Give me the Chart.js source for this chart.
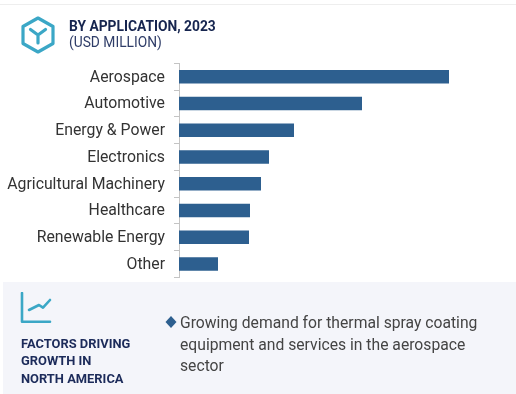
<!DOCTYPE html>
<html><head><meta charset="utf-8">
<script src="https://cdn.jsdelivr.net/npm/chart.js@4"></script>
<style>
html,body{margin:0;padding:0;background:#fff;width:516px;height:394px;overflow:hidden;font-family:Roboto,sans-serif}
.abs{position:absolute;white-space:nowrap}
#wrap{position:absolute;left:0;top:0;width:516px;height:394px}
</style></head><body>
<div class="abs" style="left:0;top:4px;width:516px;height:1px;background:#eeeeee"></div>
<div class="abs" style="left:3px;top:282px;width:513px;height:112px;background:#f4f5fa"></div>
<div id="wrap"><canvas id="c" width="516" height="394"></canvas></div>
<svg class="abs" style="left:19px;top:15px" width="38" height="40" viewBox="0 0 38 40">
<path d="M19 3 L34 11.5 L34 28.5 L19 37 L4 28.5 L4 11.5 Z" fill="none" stroke="#3ba7c6" stroke-width="3.2" stroke-linejoin="round"/>
<path d="M11.5 14.5 L19 20 L26.5 14.5 M19 20 L19 28" fill="none" stroke="#3ba7c6" stroke-width="3.2" stroke-linecap="round" stroke-linejoin="round"/>
</svg>
<div class="abs" style="left:69px;top:18px;font-size:13.8px;line-height:17px;font-weight:700;color:#16254f">BY APPLICATION, 2023</div>
<div class="abs" style="left:69px;top:34px;font-size:13.8px;line-height:17px;color:#2f3d68">(USD MILLION)</div>
<svg class="abs" style="left:19px;top:292px" width="34" height="34" viewBox="0 0 34 34">
<path d="M3 1 L3 29.7 L31 29.7" fill="none" stroke="#3ba7c6" stroke-width="2.6" stroke-linecap="round" stroke-linejoin="round"/>
<path d="M10 18 L20 13 L24 15.7 L31 8" fill="none" stroke="#3ba7c6" stroke-width="2.6" stroke-linecap="round" stroke-linejoin="round"/>
</svg>
<div class="abs" style="left:21px;top:335px;font-size:12.9px;line-height:17.3px;font-weight:700;color:#1c2b5a">FACTORS DRIVING<br>GROWTH IN<br>NORTH AMERICA</div>
<svg class="abs" style="left:165px;top:315px" width="12" height="14" viewBox="0 0 12 14"><path d="M6 1 L11.5 7 L6 13 L0.5 7 Z" fill="#2d5f8f"/></svg>
<div class="abs" style="left:180px;top:312px;font-size:15.7px;line-height:21.6px;color:#444">Growing demand for thermal spray coating<br>equipment and services in the aerospace<br>sector</div>
<script>
const categories=["Aerospace","Automotive","Energy & Power","Electronics","Agricultural Machinery","Healthcare","Renewable Energy","Other"];
const values=[270,183,115,90,82,71,70,39];
new Chart(document.getElementById('c'),{
 type:'bar',
 data:{labels:categories,datasets:[{data:values,backgroundColor:'#2d5f8f',borderWidth:0,barPercentage:0.51,categoryPercentage:1}]},
 options:{
  indexAxis:'y',responsive:false,animation:false,
  layout:{padding:0},
  plugins:{legend:{display:false},tooltip:{enabled:false}},
  scales:{
   x:{display:false,min:0,max:300},
   y:{
    afterFit(s){s.width=179},
    grid:{drawOnChartArea:false,drawTicks:true,tickLength:5,color:'#c4c4c4',offset:true},
    border:{display:true,color:'#c4c4c4',width:1},
    ticks:{color:'#333',font:{family:'Roboto',size:15.8},padding:9,autoSkip:false,labelOffset:1}
   }
  }
 },
 plugins:[{id:'pad',beforeLayout(ch){ch.options.layout.padding={top:63.4,bottom:116.6,left:0,right:37}}}]
});
</script>
</body></html>
